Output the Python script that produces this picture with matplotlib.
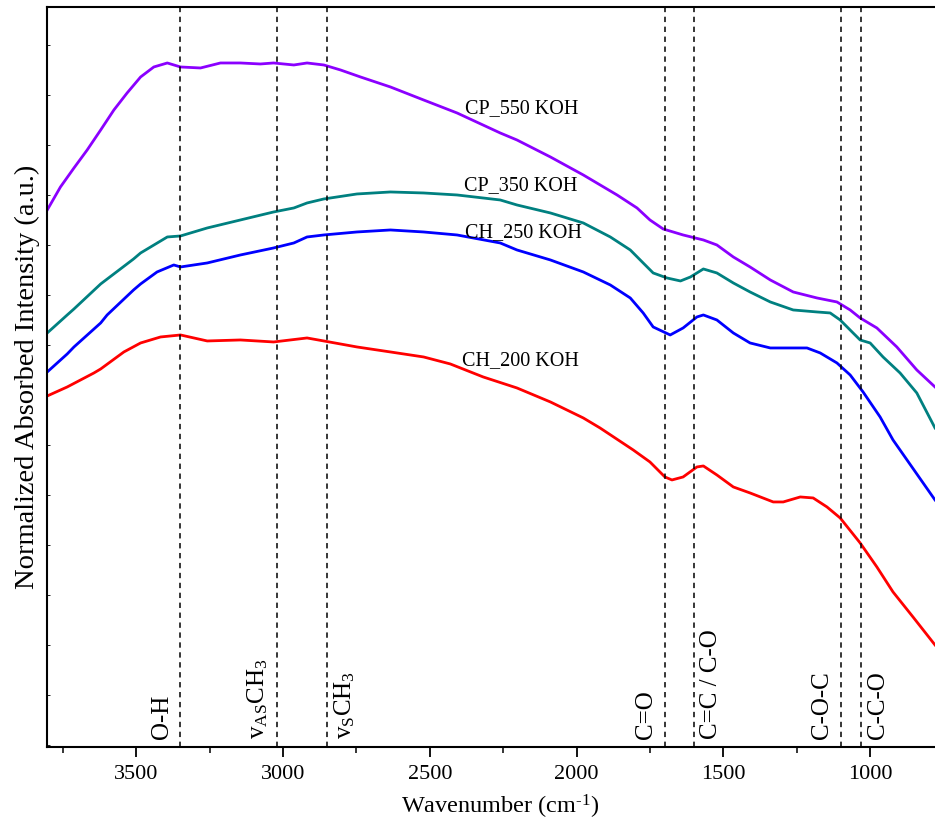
import matplotlib
matplotlib.use('Agg')
import matplotlib.pyplot as plt
from matplotlib.ticker import MultipleLocator, NullFormatter

plt.rcParams['font.family'] = ['Liberation Serif', 'DejaVu Serif']
plt.rcParams['mathtext.fontset'] = 'custom'
plt.rcParams['mathtext.rm'] = 'Liberation Serif'
plt.rcParams['mathtext.it'] = 'Liberation Serif:italic'

# FTIR spectra (wavenumber in cm-1, normalized absorbance, offset per sample)
wn_cp550 = [3803, 3758, 3712, 3667, 3621, 3576, 3531, 3485, 3440, 3394, 3349, 3281,
            3213, 3145, 3077, 3032, 2963, 2918, 2861, 2804, 2736, 2634, 2521, 2407,
            2260, 2203, 2089, 1977, 1862, 1794, 1750, 1705, 1637, 1568, 1522, 1466,
            1409, 1340, 1262, 1181, 1113, 1068, 1034, 977, 909, 841, 779]
cp550 = [5.35, 5.58, 5.77, 5.95, 6.15, 6.35, 6.52, 6.68, 6.78, 6.82, 6.78, 6.77,
         6.82, 6.82, 6.81, 6.82, 6.80, 6.82, 6.80, 6.75, 6.68, 6.58, 6.45, 6.32,
         6.12, 6.05, 5.88, 5.70, 5.50, 5.37, 5.25, 5.16, 5.10, 5.05, 5.00, 4.88,
         4.78, 4.65, 4.53, 4.47, 4.43, 4.35, 4.27, 4.17, 3.98, 3.75, 3.58]

wn_cp350 = [3803, 3735, 3712, 3621, 3509, 3485, 3394, 3349, 3258, 3145, 3032, 2963,
            2918, 2861, 2748, 2634, 2521, 2407, 2260, 2203, 2089, 1977, 1885, 1817,
            1773, 1739, 1692, 1646, 1612, 1568, 1522, 1466, 1409, 1340, 1262, 1181,
            1136, 1102, 1058, 1034, 1000, 956, 898, 841, 779]
cp350 = [4.12, 4.30, 4.36, 4.61, 4.86, 4.92, 5.08, 5.09, 5.17, 5.25, 5.33, 5.37,
         5.42, 5.46, 5.51, 5.53, 5.52, 5.50, 5.45, 5.40, 5.32, 5.22, 5.08, 4.95,
         4.82, 4.72, 4.67, 4.64, 4.68, 4.76, 4.72, 4.62, 4.53, 4.43, 4.35, 4.33,
         4.32, 4.25, 4.12, 4.05, 4.02, 3.88, 3.72, 3.52, 3.17]

wn_ch250 = [3803, 3735, 3712, 3621, 3599, 3509, 3485, 3429, 3372, 3349, 3258, 3145,
            3032, 2963, 2918, 2861, 2748, 2634, 2521, 2407, 2260, 2203, 2089, 1977,
            1885, 1817, 1773, 1739, 1681, 1637, 1590, 1568, 1522, 1466, 1409, 1340,
            1262, 1215, 1170, 1113, 1068, 1024, 966, 922, 779]
ch250 = [3.73, 3.91, 3.98, 4.22, 4.30, 4.55, 4.61, 4.73, 4.80, 4.78, 4.82, 4.90,
         4.97, 5.02, 5.08, 5.10, 5.13, 5.15, 5.13, 5.10, 5.02, 4.95, 4.85, 4.73,
         4.60, 4.47, 4.32, 4.18, 4.10, 4.17, 4.28, 4.30, 4.25, 4.12, 4.02, 3.97,
         3.97, 3.97, 3.92, 3.82, 3.70, 3.53, 3.28, 3.05, 2.45]

wn_ch200 = [3803, 3735, 3644, 3621, 3542, 3485, 3417, 3349, 3258, 3145, 3032, 2918,
            2861, 2748, 2634, 2521, 2430, 2318, 2203, 2089, 1977, 1920, 1807, 1750,
            1699, 1675, 1637, 1590, 1568, 1522, 1466, 1409, 1330, 1296, 1238, 1194,
            1147, 1102, 1034, 977, 922, 854, 779]
ch200 = [3.49, 3.58, 3.72, 3.76, 3.93, 4.02, 4.08, 4.10, 4.04, 4.05, 4.03, 4.07,
         4.04, 3.98, 3.93, 3.88, 3.81, 3.68, 3.57, 3.43, 3.27, 3.17, 2.95, 2.83,
         2.68, 2.65, 2.68, 2.78, 2.79, 2.70, 2.58, 2.52, 2.43, 2.43, 2.48, 2.47,
         2.38, 2.27, 2.02, 1.78, 1.53, 1.28, 1.00]

# band assignments
bandas = [3350, 3020, 2850, 1700, 1600, 1100, 1030]
nomes_bandas = ['O-H', r'v$_{\mathrm{AS}}$CH$_3$', r'v$_{\mathrm{S}}$CH$_3$',
                'C=O', 'C=C / C-O', 'C-O-C', 'C-C-O']
lado_bandas = ['left', 'left', 'right', 'left', 'right', 'left', 'right']

fig = plt.figure(figsize=(9.35, 8.21), dpi=100)
ax = fig.add_axes([0.0499, 0.0902, 0.9501, 0.9013])

ax.plot(wn_cp550, cp550, color='#8B00FF', lw=2.0)
ax.plot(wn_cp350, cp350, color='#008080', lw=2.0)
ax.plot(wn_ch250, ch250, color='#0000FF', lw=2.0)
ax.plot(wn_ch200, ch200, color='#FF0000', lw=2.0)

ax.text(2380, 6.32, 'CP_550 KOH', fontsize=14.5)
ax.text(2385, 5.55, 'CP_350 KOH', fontsize=14.5)
ax.text(2380, 5.08, 'CH_250 KOH', fontsize=14.5)
ax.text(2390, 3.80, 'CH_200 KOH', fontsize=14.5)

for b, nome, lado in zip(bandas, nomes_bandas, lado_bandas):
    ax.axvline(b, color='black', lw=1.1, linestyle=(0, (3.5, 3)))
    if lado == 'left':
        ax.text(b + 25, 0.06, nome, rotation=90, fontsize=18, ha='right', va='bottom')
    else:
        ax.text(b - 20, 0.06, nome, rotation=90, fontsize=18, ha='left', va='bottom')

ax.set_xlim(3805, 779)
ax.set_ylim(-0.02, 7.38)

ax.xaxis.set_major_locator(MultipleLocator(500))
ax.xaxis.set_minor_locator(MultipleLocator(250))
ax.yaxis.set_major_locator(MultipleLocator(0.5))
ax.yaxis.set_major_formatter(NullFormatter())
ax.tick_params(axis='x', which='major', direction='out', length=7, width=1.3,
               labelsize=16, pad=6)
ax.tick_params(axis='x', which='minor', direction='out', length=4, width=1.1)
ax.tick_params(axis='y', which='major', direction='in', length=2.5, width=0.6)

for lado in ['left', 'bottom', 'top']:
    ax.spines[lado].set_linewidth(1.5)
ax.spines['right'].set_visible(False)

ax.set_xlabel(r'Wavenumber (cm$^{\text{-1}}$)', fontsize=17.5)
ax.xaxis.set_label_coords(0.51, -0.062)
ax.set_ylabel('Normalized Absorbed Intensity (a.u.)', fontsize=20.5)
ax.yaxis.set_label_coords(-0.008, 0.5)

fig.savefig('out.png', dpi=100)
